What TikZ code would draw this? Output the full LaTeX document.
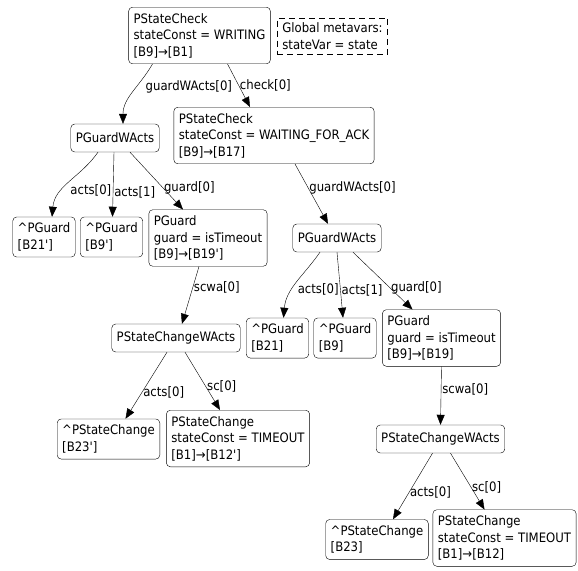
\documentclass[tikz,border=0pt]{standalone}
\usepackage{fontspec}
\setmainfont{DejaVu Sans Condensed}
\usetikzlibrary{arrows.meta}

\newcommand{\tick}{\textquotesingle}

\begin{document}
\begin{tikzpicture}[x=1pt,y=-1pt,
    font=\fontsize{13}{16.5}\selectfont,
    pattern/.style ={draw, rounded corners=4pt, align=left, inner xsep=5pt, inner ysep=6pt, minimum height=28pt},
    globals/.style ={draw, dash pattern=on 6pt off 4pt, align=left, inner xsep=5pt, inner ysep=5pt},
    edge/.style ={-{Triangle[length=10pt,width=8pt]}},
    lbl/.style ={inner sep=1pt, right}]
   \useasboundingbox (0,0) rectangle (578,570);

   \node[pattern] (A)  at (199.5,35.5)  {PStateCheck\\stateConst = WRITING\\{[B9]}→{[B1]}};
   \node[globals] (V)  at (332.5,36)  {Global metavars:\\stateVar = state};
   \node[pattern] (B)  at (115,138)  {PGuardWActs};
   \node[pattern] (C)  at (274,135.5)  {PStateCheck\\stateConst = WAITING\_FOR\_ACK\\{[B9]}→{[B17]}};

   \node[pattern] (L1)  at (44,237)  {\textasciicircum PGuard\\{[B21\tick]}};
   \node[pattern] (L2)  at (111.5,237)  {\textasciicircum PGuard\\{[B9\tick]}};
   \node[pattern] (L3)  at (208,238)  {PGuard\\guard = isTimeout\\{[B9]}→{[B19\tick]}};
   \node[pattern] (E)  at (176,338)  {PStateChangeWActs};
   \node[pattern] (F1)  at (108.5,439)  {\textasciicircum PStateChange\\{[B23\tick]}};
   \node[pattern] (F2)  at (238,438.5)  {PStateChange\\stateConst = TIMEOUT\\{[B1]}→{[B12\tick]}};

   \node[pattern] (D)  at (337,238)  {PGuardWActs};
   \node[pattern] (G1)  at (277.5,338)  {\textasciicircum PGuard\\{[B21]}};
   \node[pattern] (G2)  at (345,338)  {\textasciicircum PGuard\\{[B9]}};
   \node[pattern] (G3)  at (441.5,338)  {PGuard\\guard = isTimeout\\{[B9]}→{[B19]}};
   \node[pattern] (H)  at (440.5,439)  {PStateChangeWActs};
   \node[pattern] (I1)  at (377,539.5)  {\textasciicircum PStateChange\\{[B23]}};
   \node[pattern] (I2)  at (504.5,538)  {PStateChange\\stateConst = TIMEOUT\\{[B1]}→{[B12]}};

   \draw[edge] ([xshift=-47pt]A.south) to[out=-120,in=90] node[lbl,pos=0.4,xshift=8pt] {guardWActs[0]} ([xshift=8pt]B.north);
   \draw[edge] ([xshift=28pt]A.south) to node[lbl,pos=0.5] {check[0]} ([xshift=-24pt]C.north);
   \draw[edge] ([xshift=21pt]C.south) to node[lbl,pos=0.4] {guardWActs[0]} ([xshift=-9pt]D.north);

   \draw[edge] ([xshift=-17pt]B.south) to[out=-125,in=85] node[lbl,pos=0.6,xshift=5pt,yshift=-2pt] {acts[0]} ([xshift=8pt]L1.north);
   \draw[edge] ([xshift=-1pt]B.south) to node[lbl,pos=0.62] {acts[1]} ([xshift=1pt]L2.north);
   \draw[edge] ([xshift=15pt]B.south) to node[lbl,pos=0.62] {guard[0]} ([xshift=-25pt]L3.north);
   \draw[edge] ([xshift=-9pt]L3.south) to node[lbl,pos=0.37] {scwa[0]} ([xshift=6pt]E.north);
   \draw[edge] ([xshift=-9pt]E.south) to node[lbl,pos=0.6] {acts[0]} ([xshift=17pt]F1.north);
   \draw[edge] ([xshift=9pt]E.south) to node[lbl,pos=0.6] {sc[0]} ([xshift=-18pt]F2.north);

   \draw[edge] ([xshift=-17pt]D.south) to[out=-125,in=85] node[lbl,pos=0.6,xshift=4pt] {acts[0]} ([xshift=6pt]G1.north);
   \draw[edge] (D.south) to node[lbl,pos=0.58] {acts[1]} ([xshift=-2pt]G2.north);
   \draw[edge] ([xshift=16pt]D.south) to node[lbl,pos=0.62] {guard[0]} ([xshift=-29pt]G3.north);
   \draw[edge] (G3.south) to node[lbl,pos=0.4] {scwa[0]} (H.north);
   \draw[edge] ([xshift=-8pt]H.south) to node[lbl,pos=0.6] {acts[0]} ([xshift=16pt]I1.north);
   \draw[edge] ([xshift=10pt]H.south) to node[lbl,pos=0.6] {sc[0]} ([xshift=-20pt]I2.north);
 \end{tikzpicture}
\end{document}
